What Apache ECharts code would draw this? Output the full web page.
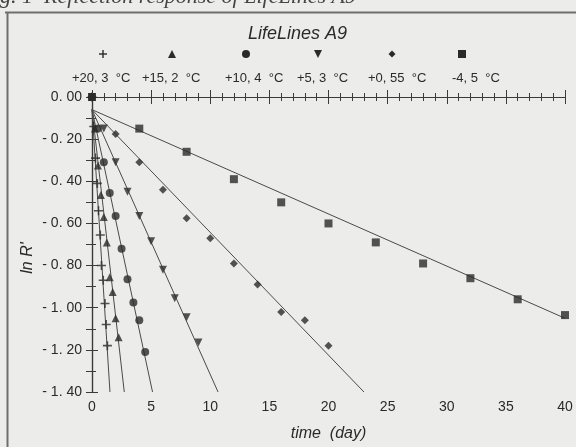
<!DOCTYPE html>
<html>
<head>
<meta charset="utf-8">
<script src="https://cdn.jsdelivr.net/npm/echarts@6/dist/echarts.min.js"></script>
<style>
  html, body { margin: 0; padding: 0; background: #ececea; }
  #chart { width: 576px; height: 447px; }
</style>
</head>
<body>
<div id="chart"></div>
<script>
// series names (legend labels)
const seriesNames = ['+20, 3  °C', '+15, 2  °C', '+10, 4  °C', '+5, 3  °C', '+0, 55  °C', '-4, 5  °C'];

const plusDays = [0, 0.15, 0.3, 0.45, 0.55, 0.7, 0.8, 0.95, 1.1, 1.2, 1.3];
const plusValues = [0, -0.14, -0.29, -0.41, -0.54, -0.655, -0.8, -0.87, -0.98, -1.08, -1.18];

const triDays = [0, 0.25, 0.5, 0.75, 1.0, 1.25, 1.5, 1.75, 2.0, 2.25];
const triValues = [0, -0.15, -0.325, -0.465, -0.57, -0.69, -0.855, -0.925, -1.05, -1.14];

const dotDays = [0, 0.5, 1, 1.5, 2, 2.5, 3, 3.5, 4, 4.5];
const dotValues = [0, -0.15, -0.31, -0.455, -0.565, -0.72, -0.865, -0.975, -1.06, -1.21];

const downDays = [0, 1, 2, 3, 4, 5, 6, 7, 8, 9];
const downValues = [0, -0.15, -0.31, -0.45, -0.565, -0.685, -0.82, -0.955, -1.045, -1.165];

const diaDays = [0, 2, 4, 6, 8, 10, 12, 14, 16, 18, 20];
const diaValues = [0, -0.175, -0.31, -0.44, -0.575, -0.67, -0.79, -0.89, -1.02, -1.06, -1.18];

const sqDays = [0, 4, 8, 12, 16, 20, 24, 28, 32, 36, 40];
const sqValues = [0, -0.15, -0.26, -0.39, -0.5, -0.6, -0.69, -0.79, -0.86, -0.96, -1.035];

// fitted lines: start (day 0) and end points
const fitStartValue = [-0.06, -0.06, -0.06, -0.06, -0.06, -0.06];
const fitEndDay = [1.52, 2.73, 5.12, 10.66, 23.0, 40];
const fitEndValue = [-1.4, -1.4, -1.4, -1.4, -1.4, -1.05];

// axis ticks
const xTicks = [0, 5, 10, 15, 20, 25, 30, 35, 40];
const yTicks = [0, -0.2, -0.4, -0.6, -0.8, -1.0, -1.2, -1.4];

const plusPath = 'path://M3.7,0 L5.3,0 L5.3,3.7 L9,3.7 L9,5.3 L5.3,5.3 L5.3,9 L3.7,9 L3.7,5.3 L0,5.3 L0,3.7 L3.7,3.7 Z';
const symbols = [plusPath, 'triangle', 'circle', 'triangle', 'diamond', 'rect'];
const symbolRotate = [0, 0, 0, 180, 0, 0];
const symbolSizes = [9, 8, 8, 8, 8, 8];
const pointSets = [
    [plusDays, plusValues],
    [triDays, triValues],
    [dotDays, dotValues],
    [downDays, downValues],
    [diaDays, diaValues],
    [sqDays, sqValues]
];

const ink = '#2a2a2a';
const axisColor = '#3a3a3a';

let chart = echarts.init(document.getElementById('chart'), null, {renderer: 'canvas'});

function fmtY(v) {
    // "- 0. 20" style, like the scanned figure
    let s = Math.abs(v).toFixed(2).replace('.', '. ');
    return v < 0 ? '- ' + s : s;
}

let series = [];
pointSets.forEach(function (p, i) {
    // regression line
    series.push({
        name: seriesNames[i] + ' fit',
        type: 'line',
        data: [[0, fitStartValue[i]], [fitEndDay[i], fitEndValue[i]]],
        symbol: 'none',
        silent: true,
        clip: true,
        lineStyle: {color: '#4a4a4a', width: 1},
        z: 2
    });
    // measured points
    series.push({
        name: seriesNames[i],
        type: 'scatter',
        data: p[0].map(function (d, k) { return [d, p[1][k]]; }),
        symbol: symbols[i],
        symbolRotate: symbolRotate[i],
        symbolSize: symbolSizes[i],
        itemStyle: {color: ink},
        z: 3
    });
});

// legend drawn as graphic: symbol on top, label below
const legendIconX = [103, 172, 246, 318, 392, 462];
const legendLabelX = [72, 142, 225, 297, 368, 452];
let legendGraphics = [];
seriesNames.forEach(function (name, i) {
    let cx = legendIconX[i];
    if (i === 0) {
        legendGraphics.push({type: 'rect', shape: {x: cx - 4, y: 53.3, width: 8, height: 1.4}, style: {fill: ink}});
        legendGraphics.push({type: 'rect', shape: {x: cx - 0.7, y: 50, width: 1.4, height: 8}, style: {fill: ink}});
    } else if (i === 1) {
        legendGraphics.push({type: 'polygon', shape: {points: [[cx, 50], [cx + 4, 58], [cx - 4, 58]]}, style: {fill: ink}});
    } else if (i === 2) {
        legendGraphics.push({type: 'circle', shape: {cx: cx, cy: 54, r: 4}, style: {fill: ink}});
    } else if (i === 3) {
        legendGraphics.push({type: 'polygon', shape: {points: [[cx - 4, 50], [cx + 4, 50], [cx, 58]]}, style: {fill: ink}});
    } else if (i === 4) {
        legendGraphics.push({type: 'polygon', shape: {points: [[cx, 50.5], [cx + 3.5, 54], [cx, 57.5], [cx - 3.5, 54]]}, style: {fill: ink}});
    } else {
        legendGraphics.push({type: 'rect', shape: {x: cx - 4, y: 50, width: 8, height: 8}, style: {fill: ink}});
    }
    legendGraphics.push({
        type: 'text',
        x: legendLabelX[i],
        y: 78,
        style: {text: name, fill: ink, font: '13px "Liberation Sans", Arial, sans-serif', textVerticalAlign: 'middle'}
    });
});

let option = {
    backgroundColor: '#ececea',
    animation: false,
    title: {
        text: 'LifeLines A9',
        left: 243,
        top: 20,
        textStyle: {color: ink, fontSize: 18, fontStyle: 'italic', fontWeight: 'normal', fontFamily: '"Liberation Sans", Arial, sans-serif'}
    },
    grid: {left: 92, right: 11, top: 97, bottom: 53},
    xAxis: [
        {
            type: 'value', position: 'bottom', min: 0, max: 40, interval: 5,
            axisLine: {lineStyle: {color: axisColor, width: 1.2}},
            axisTick: {inside: true, length: 7, lineStyle: {color: axisColor}},
            minorTick: {show: true, splitNumber: 5, length: 4, lineStyle: {color: axisColor}},
            splitLine: {show: false},
            axisLabel: {color: ink, fontSize: 14, margin: 8, fontFamily: '"Liberation Sans", Arial, sans-serif',
                formatter: function (v) { return xTicks.indexOf(v) >= 0 ? String(v) : ''; }},
            name: 'time  (day)', nameLocation: 'middle', nameGap: 34,
            nameTextStyle: {color: ink, fontSize: 16, fontStyle: 'italic', fontFamily: '"Liberation Sans", Arial, sans-serif'}
        },
        {
            type: 'value', position: 'top', min: 0, max: 40, interval: 5,
            axisLine: {lineStyle: {color: axisColor, width: 1.2}},
            axisTick: {inside: true, length: 7, lineStyle: {color: axisColor}},
            minorTick: {show: true, splitNumber: 5, length: 4, lineStyle: {color: axisColor}},
            splitLine: {show: false},
            axisLabel: {show: false}
        }
    ],
    yAxis: [
        {
            type: 'value', position: 'left', min: -1.4, max: 0, interval: 0.2,
            axisLine: {lineStyle: {color: axisColor, width: 1.2}},
            axisTick: {inside: true, length: 6, lineStyle: {color: axisColor}},
            minorTick: {show: true, splitNumber: 2, length: 4, lineStyle: {color: axisColor}},
            splitLine: {show: false},
            axisLabel: {color: ink, fontSize: 14, margin: 10, fontFamily: '"Liberation Sans", Arial, sans-serif',
                formatter: function (v) { return fmtY(v); }}
        },
        {
            type: 'value', position: 'right', min: -1.4, max: 0, interval: 0.2,
            axisLine: {lineStyle: {color: axisColor, width: 1.2}},
            axisTick: {inside: true, length: 6, lineStyle: {color: axisColor}},
            minorTick: {show: true, splitNumber: 2, length: 6, lineStyle: {color: axisColor}},
            splitLine: {show: false},
            axisLabel: {show: false}
        }
    ],
    graphic: [
        // frame of the scanned figure
        {type: 'line', shape: {x1: 5, y1: 12.5, x2: 576, y2: 12.5}, style: {stroke: '#6e6e6e', lineWidth: 2}},
        {type: 'line', shape: {x1: 7.5, y1: 12, x2: 7.5, y2: 447}, style: {stroke: '#6e6e6e', lineWidth: 2}},
        {type: 'text', x: 0, y: 8, style: {text: 'g. 1  Reflection response of LifeLines A9', fill: '#444',
            font: 'italic 22px "Liberation Serif", "DejaVu Serif", serif', textVerticalAlign: 'bottom'}},
        // y axis name
        {type: 'text', x: 28, y: 258, rotation: Math.PI / 2,
            style: {text: "ln R'", fill: ink, font: 'italic 16px "Liberation Sans", Arial, sans-serif',
                textAlign: 'center', textVerticalAlign: 'middle'}}
    ].concat(legendGraphics),
    series: series
};

chart.setOption(option);
</script>
</body>
</html>
